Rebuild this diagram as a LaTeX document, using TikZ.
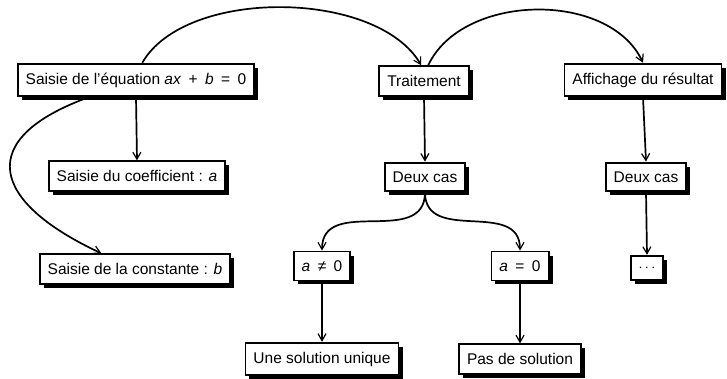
\documentclass[tikz,border=0pt]{standalone}
\usepackage{fontspec}
\setmainfont{Liberation Sans}
\usetikzlibrary{shadows,arrows.meta}
\newcommand{\opsp}{\hspace{0.2em}}
\tikzset{
  box/.style={draw=black, fill=white, line width=1.9pt, inner xsep=8pt, inner ysep=9pt,
    font=\fontsize{15.5}{18}\selectfont,
    drop shadow={shadow xshift=4pt, shadow yshift=-4pt, fill=black, opacity=1}},
  conn/.style={line width=1.7pt, -{Straight Barb[length=7pt,width=8pt,line width=1.2pt]}}
}
\begin{document}
\begin{tikzpicture}[x=1pt,y=1pt]
\useasboundingbox (0,0) rectangle (727,-378);
\node[box] (eq) at (136,-80) {Saisie de l’équation \textit{ax}\opsp{} + \opsp\textit{b}\opsp{} = \opsp{}0};
\node[box] (trait) at (424,-81) {Traitement};
\node[box] (aff) at (643,-80) {Affichage du résultat};
\node[box] (coef) at (137,-176) {Saisie du coefficient : \textit{a}};
\node[box] (const) at (135,-269) {Saisie de la constante : \textit{b}};
\node[box] (deux1) at (425,-177) {Deux cas};
\node[box] (deux2) at (646,-177) {Deux cas};
\node[box] (aneq) at (322,-266) {\textit{a}\opsp{} ≠ \opsp{}0};
\node[box] (aeq) at (520,-266) {\textit{a}\opsp{} = \opsp{}0};
\node[box] (dots) at (647,-268) {$\cdots$};
\node[box] (une) at (322,-359) {Une solution unique};
\node[box] (pas) at (520,-359) {Pas de solution};

\draw[conn] (eq.70) to[out=60,in=120,looseness=0.8] (trait.100);
\draw[conn] (trait.75) to[out=65,in=115,looseness=0.95] (aff.north);
\draw[conn] (eq.-160) to[out=-160,in=155,looseness=2] (const.155);
\draw[conn] (eq.south) -- (coef.north);
\draw[conn] (trait.south) -- (deux1.north);
\draw[conn] (deux1.south) to[out=-90,in=90,looseness=1.2] (aneq.north);
\draw[conn] (deux1.south) to[out=-90,in=90,looseness=1.2] (aeq.north);
\draw[conn] (aneq.south) -- (une.north);
\draw[conn] (aeq.south) -- (pas.north);
\draw[conn] (aff.south) -- (deux2.north);
\draw[conn] (deux2.south) -- (dots.north);
\end{tikzpicture}
\end{document}
